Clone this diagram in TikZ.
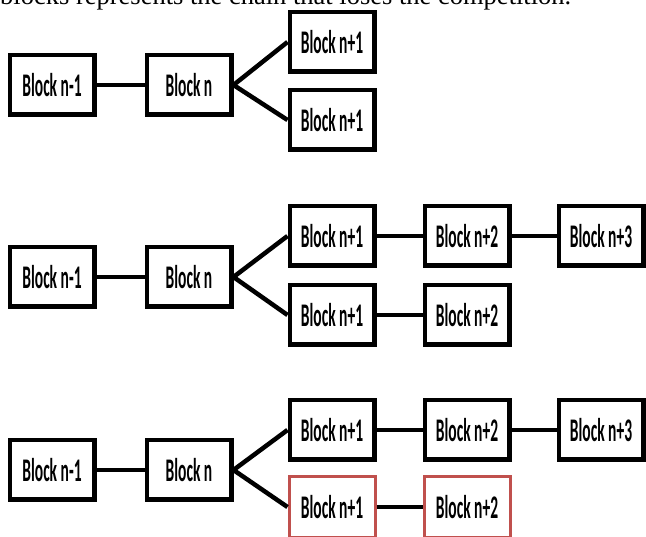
\documentclass[tikz,border=0pt]{standalone}
\usepackage{fontspec}
\setmainfont{Liberation Serif}
\newfontfamily\blockfont{Carlito}
\definecolor{losered}{RGB}{192,80,77}
\tikzset{
  blk/.style={draw=black, line width=4.5pt, minimum width=84.5pt, minimum height=59.5pt,
    inner sep=0pt, font=\blockfont\bfseries\fontsize{33}{36}\selectfont},
  redblk/.style={blk, draw=losered, line width=3pt, minimum width=86pt, minimum height=61pt},
  link/.style={line width=4.5pt, black}
}
\newcommand{\bl}[1]{\scalebox{0.47}[1]{#1}}
\begin{document}
\begin{tikzpicture}[x=1pt,y=-1pt]
\useasboundingbox (0,0) rectangle (646,537);
\node[anchor=base west, inner sep=0pt, font=\fontsize{26.5}{30}\selectfont] (cap) at (0,5) {blocks represents the chain that loses the competition.};
% Row 1
\node[blk] (a1) at (52,85) {\bl{Block n-1}};
\node[blk] (a2) at (189,85) {\bl{Block n}};
\node[blk] (a3) at (332,42) {\bl{Block n+1}};
\node[blk] (a4) at (332,120) {\bl{Block n+1}};
\draw[link] (a1.east) -- (a2.west);
\draw[link] (a2.east) -- (a3.west);
\draw[link] (a2.east) -- (a4.west);
% Row 2
\node[blk] (b1) at (52,277) {\bl{Block n-1}};
\node[blk] (b2) at (189,277) {\bl{Block n}};
\node[blk] (b3) at (332,236) {\bl{Block n+1}};
\node[blk] (b4) at (467,236) {\bl{Block n+2}};
\node[blk] (b5) at (601,236) {\bl{Block n+3}};
\node[blk] (b6) at (332,315) {\bl{Block n+1}};
\node[blk] (b7) at (467,315) {\bl{Block n+2}};
\draw[link] (b1.east) -- (b2.west);
\draw[link] (b2.east) -- (b3.west);
\draw[link] (b2.east) -- (b6.west);
\draw[link] (b3.east) -- (b4.west);
\draw[link] (b4.east) -- (b5.west);
\draw[link] (b6.east) -- (b7.west);
% Row 3
\node[blk] (c1) at (52,470) {\bl{Block n-1}};
\node[blk] (c2) at (189,470) {\bl{Block n}};
\node[blk] (c3) at (332,430) {\bl{Block n+1}};
\node[blk] (c4) at (467,430) {\bl{Block n+2}};
\node[blk] (c5) at (601,430) {\bl{Block n+3}};
\node[redblk] (c6) at (332,507) {\bl{Block n+1}};
\node[redblk] (c7) at (467,507) {\bl{Block n+2}};
\draw[link] (c1.east) -- (c2.west);
\draw[link] (c2.east) -- (c3.west);
\draw[link] (c2.east) -- (c6.west);
\draw[link] (c3.east) -- (c4.west);
\draw[link] (c4.east) -- (c5.west);
\draw[link] (c6.east) -- (c7.west);
\end{tikzpicture}
\end{document}
